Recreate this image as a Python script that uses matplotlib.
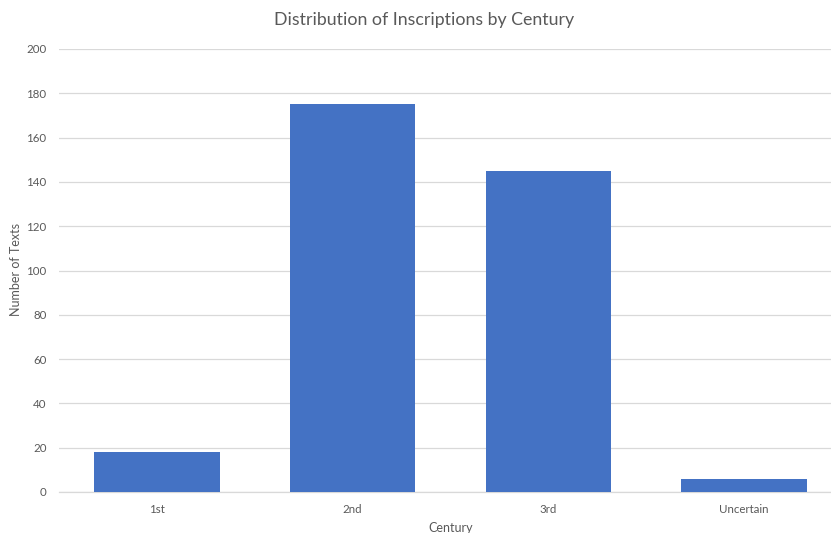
import matplotlib
matplotlib.use('Agg')
import matplotlib.pyplot as plt
import numpy as np

# Inscription counts per century
centuries = ['1st', '2nd', '3rd', 'Uncertain']
counts = [18, 175, 145, 6]

BAR_COLOR = '#4472C4'
TEXT_COLOR = '#595959'
GRID_COLOR = '#D9D9D9'

plt.rcParams['font.family'] = ['Lato', 'DejaVu Sans']

fig = plt.figure(figsize=(8.31, 5.33), dpi=100, facecolor='white')
# plot area runs slightly past the right edge of the canvas
ax = fig.add_axes([59 / 831, 41 / 533, 783 / 831, 443 / 533])

x = np.arange(len(centuries))
ax.bar(x, counts, width=0.64, color=BAR_COLOR, zorder=3)

ax.set_xlim(-0.5, len(centuries) - 0.5)
ax.set_ylim(0, 200)
ax.set_yticks(np.arange(0, 201, 20))
ax.set_xticks(x)
ax.set_xticklabels(centuries)

ax.yaxis.grid(True, color=GRID_COLOR, linewidth=0.9, zorder=0)
ax.set_axisbelow(True)
for side in ['top', 'right', 'left']:
    ax.spines[side].set_visible(False)
ax.spines['bottom'].set_color(GRID_COLOR)
ax.spines['bottom'].set_linewidth(0.9)
ax.tick_params(axis='both', length=0, labelsize=8.3, colors=TEXT_COLOR)
ax.tick_params(axis='y', pad=9)
ax.tick_params(axis='x', pad=8.5)

fig.text(424 / 831, 1 - 20 / 533, 'Distribution of Inscriptions by Century',
         ha='center', va='center', fontsize=12.8, color=TEXT_COLOR)
fig.text(16 / 831, 1 - 270 / 533, 'Number of Texts', rotation=90,
         ha='center', va='center', fontsize=9, color=TEXT_COLOR)
fig.text(451 / 831, 1 - 528 / 533, 'Century',
         ha='center', va='center', fontsize=9, color=TEXT_COLOR)

plt.savefig('out.png', dpi=100, facecolor='white')
plt.close()
